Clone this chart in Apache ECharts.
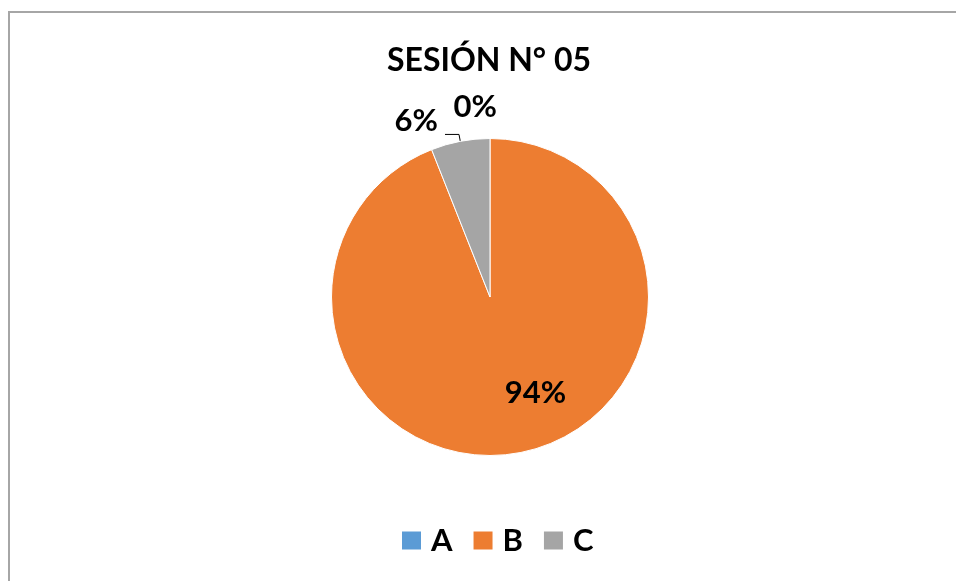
<!DOCTYPE html>
<html>
<head>
<meta charset="utf-8">
<script src="https://cdn.jsdelivr.net/npm/echarts@6/dist/echarts.min.js"></script>
<style>
html,body{margin:0;padding:0;background:#fff;}
#chart{width:956px;height:581px;}
</style>
</head>
<body>
<div id="chart"></div>
<script>
const titleText = 'SESIÓN N° 05';
const categories = ['A', 'B', 'C'];
const values = [0, 94, 6];
const colors = ['#5b9bd5', '#ed7d31', '#a5a5a5'];

const chart = echarts.init(document.getElementById('chart'));
const FONT = 'Lato';

const data = categories.map((c, i) => ({ name: c, value: values[i], itemStyle: { color: colors[i] } }));
data[0].label = { position: 'outside' };
data[0].labelLine = { show: false, length: 8, length2: 0 };
data[1].label = { position: 'inside' };
data[2].label = { position: 'outside' };
data[2].labelLine = { show: true, length: 7, length2: 14 };

chart.setOption({
  animation: false,
  backgroundColor: '#fff',
  graphic: [{
    type: 'rect',
    shape: { x: 9, y: 12, width: 1000, height: 1000 },
    style: { fill: 'none', stroke: '#a6a6a6', lineWidth: 2 },
    silent: true
  }],
  title: {
    text: titleText,
    left: 484, top: 40, textAlign: 'center',
    textStyle: { fontFamily: FONT, fontWeight: 'bold', fontSize: 32, color: '#000' }
  },
  legend: {
    bottom: 20, left: 395,
    itemWidth: 21, itemHeight: 20, itemGap: 19,
    icon: 'rect',
    textStyle: { fontFamily: FONT, fontWeight: 'bold', fontSize: 31, color: '#000', padding: [0, 0, 0, 4] },
    data: categories
  },
  series: [{
    type: 'pie',
    center: [490, 297],
    radius: 158.5,
    startAngle: 90,
    clockwise: true,
    avoidLabelOverlap: false,
    itemStyle: { borderColor: '#fff', borderWidth: 1 },
    label: {
      show: true,
      formatter: p => Math.round(p.percent) + '%',
      fontFamily: FONT, fontWeight: 'bold', fontSize: 31, color: '#000'
    },
    labelLine: { lineStyle: { color: '#000', width: 1 } },
    labelLayout: function (params) {
      if (params.dataIndex === 1) return { dx: 30, dy: 15 };
      if (params.dataIndex === 0) return { dx: 12, dy: -24 };
      if (params.dataIndex === 2) return { dx: -2, dy: -13 };
      return {};
    },
    data: data
  }]
});
</script>
</body>
</html>
